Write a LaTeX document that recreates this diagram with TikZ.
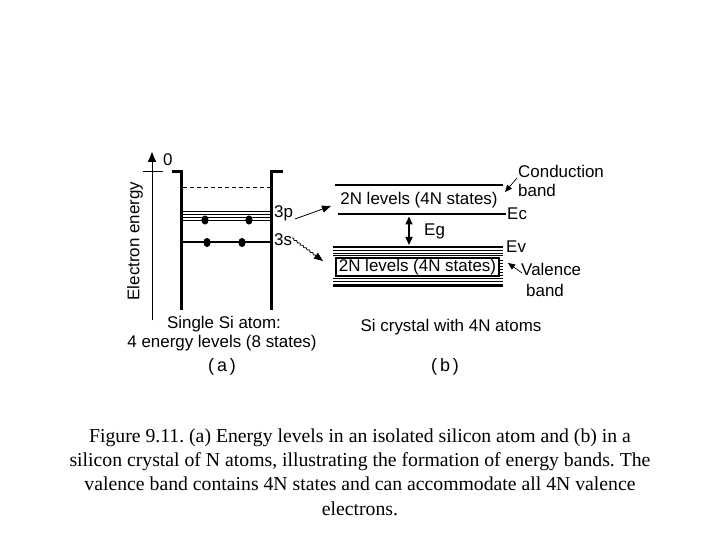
\documentclass[tikz,border=0pt]{standalone}
\usepackage{fontspec}
\setmainfont{Liberation Serif}
\newfontfamily\labfont{Liberation Sans}
\usetikzlibrary{arrows.meta,decorations.pathmorphing}
\frenchspacing
\begin{document}
\begin{tikzpicture}[x=1bp,y=-1bp,
  lab/.style={inner sep=0pt,font=\labfont\fontsize{17}{19}\selectfont},
  wall/.style={line width=3bp},
  thick band/.style={line width=2.8bp},
  thin band/.style={line width=0.9bp},
  ptr/.style={line width=0.8bp,-{Triangle[length=9bp,width=7bp]}},
  dot/.style={fill=black,ellipse,draw=none}]
\useasboundingbox (0,0) rectangle (720,540);
% axis
\coordinate (axb) at (152,320);
\coordinate (axt) at (152,152);
\draw[line width=0.9bp,-{Triangle[length=10bp,width=8bp]}] (axb) -- (axt);
\coordinate (tkl) at (143,171.5);
\coordinate (tkr) at (163,171.5);
\draw[line width=0.9bp] (tkl) -- (tkr);
\node[lab,anchor=west] (zero) at (163,160) {0};
\node[lab,rotate=90] (ee) at (135,241) {Electron energy};
% walls
\draw[wall] (172,172) -- (181.5,172) -- (181.5,310);
\draw[wall] (283,172) -- (271.5,172) -- (271.5,310);
% levels
\draw[line width=0.8bp,dash pattern=on 4bp off 3bp] (183,187) -- (270,187);
\foreach \yy in {211.5,214.5,217.5} \draw[line width=0.8bp] (181,\yy) -- (271,\yy);
\draw[line width=1.6bp] (181,220.5) -- (271,220.5);
\draw[line width=2bp] (181,242.5) -- (271,242.5);
\foreach \xx in {205,249} \fill (\xx,220) ellipse (3.6bp and 4.6bp);
\foreach \xx in {207,242} \fill (\xx,242.5) ellipse (3.6bp and 4.6bp);
\node[lab,anchor=west] (p3) at (274,213) {3p};
\node[lab,anchor=west] (s3) at (274,240) {3s};
% conduction band
\draw[thick band] (335,185) -- (503,185);
\node[lab] (cbt) at (419,200) {2N levels (4N states)};
\draw[thick band] (338,214) -- (506,214);
\node[lab,anchor=west] (ec) at (507,214) {Ec};
% gap
\coordinate (ga) at (409,216.5);
\coordinate (gb) at (409,245);
\draw[line width=1.6bp,{Triangle[length=8bp,width=7bp]}-{Triangle[length=8bp,width=7bp]}] (ga) -- (gb);
\node[lab,anchor=west] (eg) at (424,231) {Eg};
% valence band
\draw[thick band] (333,247) -- (503,247);
\node[lab,anchor=west] (ev) at (506,247) {Ev};
\foreach \yy in {250.5,253,255.5,278.5,281.5} \draw[thin band] (333,\yy) -- (503,\yy);
\foreach \yy in {260,263,266,269,272,275} \draw[line width=0.6bp] (499,\yy) -- (503,\yy);
\draw[thick band] (333,285.5) -- (503,285.5);
\node[lab,draw,line width=1.3bp,minimum width=163bp,minimum height=18bp] (vbt) at (417.5,267) {2N levels (4N states)};
% side labels
\node[lab,anchor=west] (cond) at (518,171) {Conduction};
\node[lab,anchor=west] (cband) at (518,190) {band};
\node[lab,anchor=west] (val) at (521,269) {Valence};
\node[lab,anchor=west] (vband) at (526,290) {band};
% pointers
\coordinate (c1) at (517,178);
\coordinate (c2) at (505,192);
\draw[ptr,line width=0.7bp,-{Triangle[length=7bp,width=6bp]}] (c1) -- (c2);
\coordinate (v1) at (522,273);
\coordinate (v2) at (508,263);
\draw[ptr,line width=0.7bp,-{Triangle[length=7bp,width=6bp]}] (v1) -- (v2);
\coordinate (p1) at (295,219);
\coordinate (p2) at (331,206);
\draw[ptr] (p1) -- (p2);
\coordinate (s1) at (292,238);
\coordinate (s2) at (323,261);
\draw[ptr,decoration={snake,amplitude=0.7bp,segment length=4bp,post length=9bp},decorate] (s1) -- (s2);
% captions
\node[lab] (sa1) at (224,324) {Single Si atom:};
\node[lab] (sa2) at (222,343) {4 energy levels (8 states)};
\node[lab,font=\labfont\fontsize{18}{19}\selectfont] (pa) at (222,367) {(\,a\,)};
\node[lab] (sc) at (451,327) {Si crystal with 4N atoms};
\node[lab,font=\labfont\fontsize{18}{19}\selectfont] (pb) at (445,367) {(\,b\,)};
\node[align=center,inner sep=0pt,font=\fontsize{19.8}{24.5}\selectfont] (cap) at (360,472) {Figure 9.11. (a) Energy levels in an isolated silicon atom and (b) in a\\silicon crystal of N atoms, illustrating the formation of energy bands. The\\valence band contains 4N states and can accommodate all 4N valence\\electrons.};
\end{tikzpicture}
\end{document}
